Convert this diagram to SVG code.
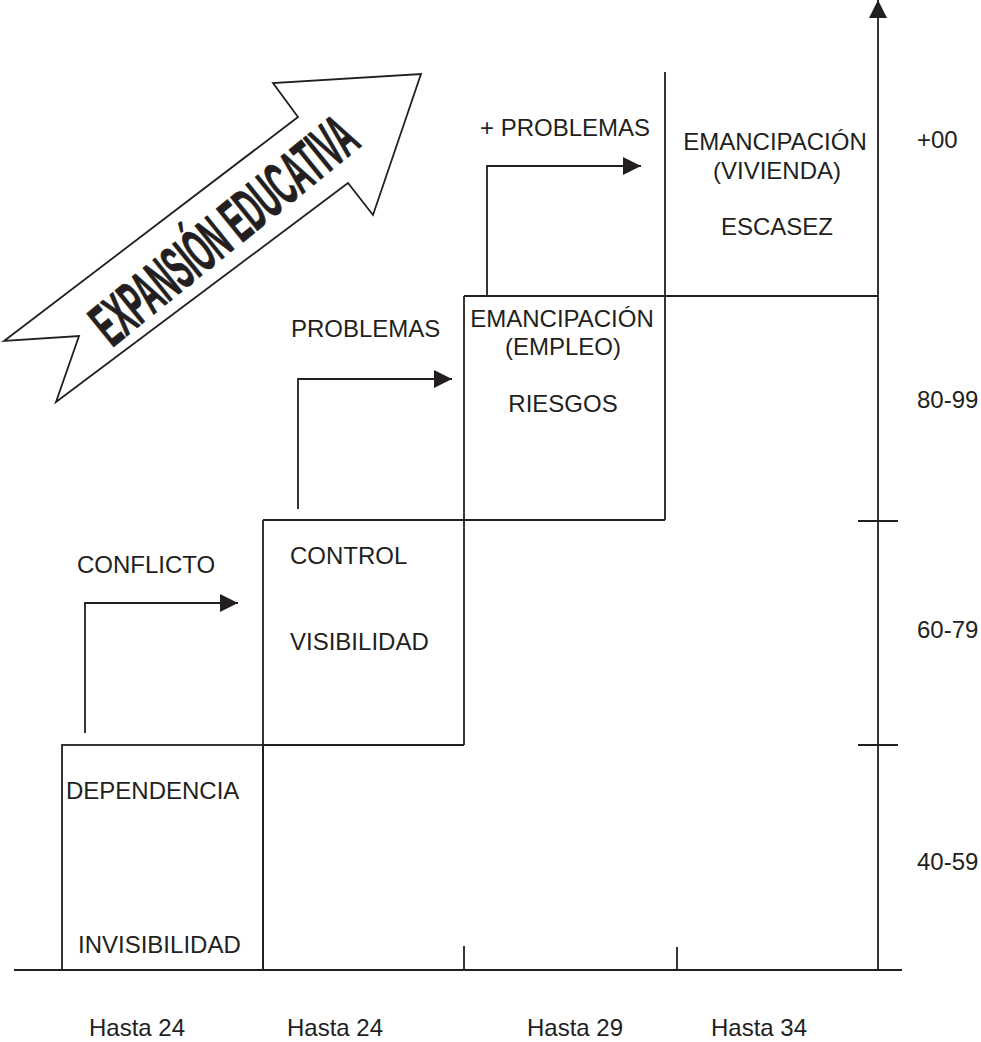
<svg xmlns="http://www.w3.org/2000/svg" width="981" height="1042" viewBox="0 0 981 1042">
<style>
.ln{stroke:#231f20;stroke-width:1.8;fill:none}
.t{font-family:"Liberation Sans",Arial,sans-serif;font-size:24px;fill:#231f20}
.m{text-anchor:middle}
.big{font-family:"Liberation Sans",Arial,sans-serif;font-weight:bold;font-size:62px;fill:#231f20;stroke:#231f20;stroke-width:1}
</style>
<defs>
<marker id="ah" viewBox="0 0 18 18" refX="18" refY="9" markerWidth="18" markerHeight="18" markerUnits="userSpaceOnUse" orient="auto">
<path d="M0,0 L18,9 L0,18 Z" fill="#231f20"/>
</marker>
</defs>
<rect width="981" height="1042" fill="#ffffff"/>

<g id="big-arrow">
<polygon class="ln" points="4,341 298,117 273,83 421,74 373,215 348,183 56,402 79,336"/>
<text class="big" transform="translate(112,348) rotate(-39)" x="0" y="0" textLength="322" lengthAdjust="spacingAndGlyphs">EXPANSIÓN EDUCATIVA</text>
</g>

<g id="grid">
<rect class="ln" x="62" y="745" width="201" height="225"/>
<path class="ln" d="M263,520 V970 M263,745 H464 M263,520 H665 M464,296 V745 M665,72 V520 M464,296 H878"/>
</g>

<g id="axes">
<path class="ln" d="M14,970 H902"/>
<path class="ln" d="M878,970 V0" marker-end="url(#ah)"/>
<path class="ln" d="M464,946 V970 M677,947 V970 M858,521 H898 M858,745 H898"/>
</g>

<g id="connectors">
<path class="ln" d="M85,733 V603 H238" marker-end="url(#ah)"/>
<path class="ln" d="M298,509 V379 H452" marker-end="url(#ah)"/>
<path class="ln" d="M487,295 V166 H641" marker-end="url(#ah)"/>
</g>

<g id="node-conflicto"><text class="t" x="77" y="573">CONFLICTO</text></g>
<g id="node-problemas"><text class="t" x="291" y="337">PROBLEMAS</text></g>
<g id="node-masproblemas"><text class="t" x="480" y="136">+ PROBLEMAS</text></g>

<g id="node-dependencia">
<text class="t" x="66" y="799">DEPENDENCIA</text>
<text class="t" x="78" y="953">INVISIBILIDAD</text>
</g>
<g id="node-control">
<text class="t" x="290" y="564">CONTROL</text>
<text class="t" x="290" y="650">VISIBILIDAD</text>
</g>
<g id="node-empleo">
<text class="t m" x="562" y="327">EMANCIPACIÓN</text>
<text class="t m" x="563" y="355">(EMPLEO)</text>
<text class="t m" x="563" y="412">RIESGOS</text>
</g>
<g id="node-vivienda">
<text class="t m" x="775" y="150">EMANCIPACIÓN</text>
<text class="t m" x="777" y="179">(VIVIENDA)</text>
<text class="t m" x="777" y="235">ESCASEZ</text>
</g>

<g id="y-labels">
<text class="t" x="917" y="148">+00</text>
<text class="t" x="917" y="408">80-99</text>
<text class="t" x="917" y="638">60-79</text>
<text class="t" x="917" y="870">40-59</text>
</g>
<g id="x-labels">
<text class="t" x="89" y="1036">Hasta 24</text>
<text class="t" x="287" y="1036">Hasta 24</text>
<text class="t" x="527" y="1036">Hasta 29</text>
<text class="t" x="711" y="1036">Hasta 34</text>
</g>
</svg>
